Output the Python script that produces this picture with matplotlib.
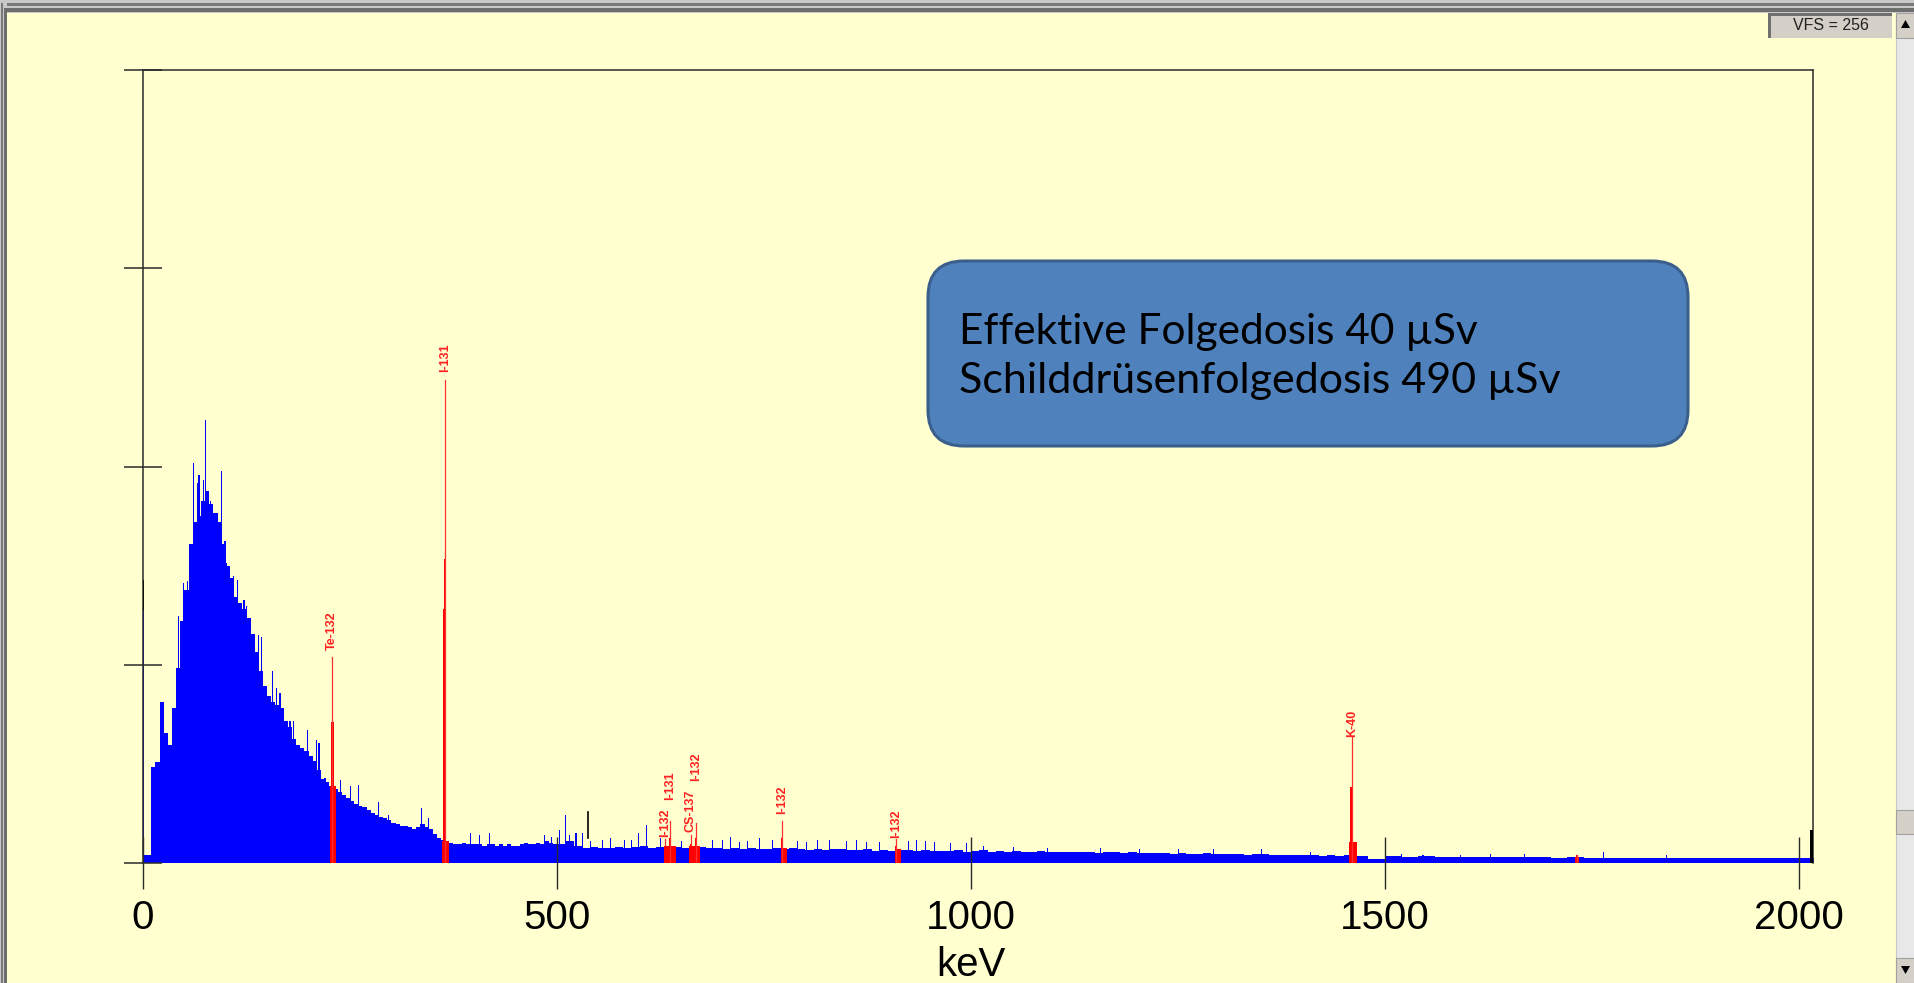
import numpy as np
import matplotlib.pyplot as plt
from matplotlib.patches import Rectangle, FancyBboxPatch, Polygon

W, H = 1915, 983

# gamma spectrum continuum, 5 keV bins from 0 to 500 keV (counts per channel)
low_counts = [2.6, 2.6, 31, 32.5, 52, 42, 38, 50, 63, 78,
              88, 103, 110, 112, 117, 120, 116, 113, 110, 103,
              96, 92, 86, 84, 82, 79, 74, 68, 62, 57,
              54, 52, 51, 50, 46, 44, 40, 38, 37, 36,
              34.5, 33, 30, 27, 26, 25, 24, 23, 22, 21,
              20, 19, 18.5, 18, 17, 16, 15.5, 15, 14.5, 14,
              13, 12.5, 12, 12, 11.5, 11, 11.5, 12.5, 11.5, 11,
              9.5, 8, 7.5, 7, 6.5, 6, 6, 6.5, 6, 6,
              6, 6, 5.5, 6, 6, 5.5, 6, 5.5, 6, 5.5,
              5.5, 6, 6.5, 6, 6, 6.5, 6, 7, 6.5, 6]

# 10 keV bins from 500 to 1500 keV
mid_counts = [6.2, 7.0, 5.5, 5.0, 5.2, 4.8, 5.0, 5.3, 4.8, 5.2,
              5.5, 5.0, 5.3, 5.0, 5.2, 4.8, 5.0, 5.2, 4.7, 5.0,
              4.6, 4.8, 4.5, 5.0, 4.6, 4.4, 4.7, 4.5, 4.8, 4.4,
              4.3, 4.6, 4.2, 4.4, 4.5, 4.1, 4.3, 4.4, 4.0, 4.2,
              4.0, 4.3, 4.1, 3.9, 4.2, 3.8, 4.0, 3.9, 4.1, 3.7,
              3.8, 4.1, 3.7, 3.9, 3.6, 3.8, 3.5, 3.7, 3.8, 3.5,
              3.5, 3.7, 3.4, 3.6, 3.5, 3.3, 3.5, 3.4, 3.2, 3.4,
              3.2, 3.3, 3.1, 3.3, 3.0, 3.1, 3.0, 2.9, 3.1, 2.9,
              2.9, 2.8, 3.0, 2.7, 2.8, 2.9, 2.6, 2.7, 2.6, 2.5,
              2.5, 2.6, 2.4, 2.5, 2.3, 2.5, 2.4, 2.3, 1.3, 1.3]

# 20 keV bins from 1500 to 2020 keV
high_counts = [2.2, 2.0, 2.1, 2.0, 1.9, 1.9, 1.8, 1.9, 1.8, 1.8,
               1.7, 1.8, 1.7, 1.6, 1.7, 1.6, 1.6, 1.5, 1.6, 1.5,
               1.5, 1.6, 1.5, 1.6, 1.7, 1.5]

# single noisy channels sticking out of the continuum
spike_kev = [0.5, 42.7, 48.7, 53.5, 60.8, 65.6, 67.6, 72.9, 75.7, 82, 87, 95, 99, 101,
             109, 114, 122, 125, 139, 143, 156, 161, 165.5, 177.5, 181.6, 198.5, 209.7,
             212.6, 219.8, 238.7, 250.8, 260, 284, 296, 336.5, 344.6, 395, 406, 419,
             485, 493, 503, 510.4, 515, 523, 531, 540, 555.5, 565, 581.7, 590, 598, 608.6,
             625, 650, 688, 700, 710, 720.5, 730, 744.7, 760, 790, 801, 815, 829, 850, 862,
             873.5, 890, 925, 934, 945, 956, 975, 995, 1015, 1051, 1092, 1156, 1204, 1251,
             1293, 1351, 1410, 1520, 1546, 1591, 1627, 1669, 1764, 1840]
spike_cnt = [82, 79.6, 90.4, 91, 129, 122.7, 125.4, 123.8, 142.9, 117, 113, 126.5, 104, 97,
             92.6, 91.5, 85, 82.9, 73.7, 73, 62, 56.5, 54.8, 46, 46, 43, 39.8,
             38.7, 27.4, 26.8, 24.7, 25.2, 19.8, 15.5, 17.7, 14.4, 9.6, 9.1, 9.6,
             9, 8.5, 10.7, 15.5, 9, 9.6, 9.6, 7, 7.4, 8, 7.4, 7.5, 9.6, 12.3,
             8, 7, 7.4, 7.5, 8.5, 6.9, 7, 8, 7.5, 7, 6.9, 7.5, 7.4, 7, 7.5,
             6.9, 6.8, 7, 7.4, 7.2, 6.9, 6.5, 6.5, 5.5, 5.3, 4.7, 4.7, 4.4, 4.4,
             4.4, 4.4, 3.7, 2.8, 2.6, 2.6, 2.8, 2.8, 3.7, 2.6]

# identified nuclide peaks (red)
peak_name = ['Te-132', 'I-131', 'I-132', 'I-131', 'CS-137', 'I-132', 'I-132', 'I-132', 'K-40', '']
peak_kev = [228.5, 364.5, 630.5, 636.5, 661.5, 668, 772, 910, 1460, 1732]
peak_top = [66.6, 156, 7.8, 13.4, 9.0, 12.9, 13.4, 7.8, 41, 2.6]
peak_mid = [45.6, 98, 5.5, 8, 6, 8, 8, 5.5, 24.6, 2.6]
peak_block = [45.6, 82, 5.5, 8, 6, 8, 8, 5.5, 24.6, 2.6]
peak_width = [4, 4, 2.5, 2.5, 2.5, 2.5, 2.5, 2.5, 4, 2]
roi_lo = [225.5, 361, 629, 629, 659, 659, 770, 909, 1456.5, 1730]
roi_hi = [233, 370, 644, 644, 673, 673, 778, 916, 1466, 1734]
roi_level = [25, 7, 5.5, 5.5, 5.5, 5.5, 5, 4.5, 6.8, 2]
label_y = [68.8, 158.4, 8.4, 20.4, 10, 26.5, 15.8, 8, 40.7, 0]

x_ticks = [0, 500, 1000, 1500, 2000]
y_ticks = [0, 64, 128, 192, 256]

bg = '#FFFFD0'
fig = plt.figure(figsize=(W / 100, H / 100), dpi=100, facecolor=bg)
ax = fig.add_axes([143 / W, 1 - 863 / H, (1813 - 143) / W, (863 - 70) / H])
ax.set_facecolor('none')

edges = np.concatenate([np.arange(0, 501, 5), np.arange(510, 1501, 10), np.arange(1520, 2021, 20)])
counts = np.array(low_counts + mid_counts + high_counts)
ax.fill_between(edges, np.append(counts, counts[-1]), step='post', color='#0000FF', lw=0, zorder=1)
ax.bar(spike_kev, spike_cnt, width=1.3, color='#0000FF', lw=0, zorder=1)

for i in range(len(peak_kev)):
    k = peak_kev[i]
    ax.fill_between([roi_lo[i], roi_hi[i]], roi_level[i], color='#FF0000', lw=0, zorder=2)
    ax.bar(k, peak_block[i], width=peak_width[i], color='#FF0000', lw=0, zorder=2)
    ax.bar(k, peak_mid[i], width=2.2, color='#FF0000', lw=0, zorder=2)
    ax.plot([k, k], [0, peak_top[i]], color='#FF3030', lw=0.9, zorder=2)
    if peak_name[i]:
        ax.text(k, label_y[i], peak_name[i], rotation=90, ha='center', va='bottom',
                color='#FF2020', fontsize=9, fontweight='bold', family='Liberation Sans')

# cursor marks drawn in black by the analyser
ax.plot([0, 0], [82, 91], color='black', lw=1.2, zorder=3)
ax.plot([537, 537], [8, 16.5], color='black', lw=1.2, zorder=3)
ax.fill_between([2013, 2017], 10.7, color='black', lw=0, zorder=3)

ax.set_xlim(0, 2017)
ax.set_ylim(0, 256)
ax.set_xticks(x_ticks)
ax.set_xticklabels([str(t) for t in x_ticks], family='Liberation Sans')
ax.set_yticks(y_ticks)
ax.tick_params(axis='x', direction='inout', length=38, width=1.0, color='#2A2A2A', pad=7, labelsize=29)
ax.tick_params(axis='y', direction='inout', length=27, width=1.1, color='#2A2A2A', labelleft=False)
for s in ['top', 'left', 'right']:
    ax.spines[s].set_color('#2A2A2A')
    ax.spines[s].set_linewidth(1.1)
ax.spines['bottom'].set_visible(False)

fig.text(971 / W, 1 - 965 / H, 'keV', ha='center', va='center', fontsize=29, family='Liberation Sans')

# overlay in pixel units for the window frame and the annotation box
ov = fig.add_axes([0, 0, 1, 1], zorder=5)
ov.set_xlim(0, W)
ov.set_ylim(H, 0)
ov.axis('off')

ov.add_patch(Rectangle((0, 0), W, 13, fc='#C8C8C8', lw=0))
ov.add_patch(Rectangle((0, 3), W, 3, fc='#7A7A7A', lw=0))
ov.add_patch(Rectangle((0, 8), W, 4, fc='#6E6E6E', lw=0))
ov.add_patch(Rectangle((0, 0), 7, H, fc='#C8C8C8', lw=0))
ov.add_patch(Rectangle((1, 3), 2, H, fc='#7A7A7A', lw=0))
ov.add_patch(Rectangle((4, 8), 3, H, fc='#6E6E6E', lw=0))

# VFS field
ov.add_patch(Rectangle((1768, 13), 124, 25, fc='#D4D0C8', lw=0))
ov.add_patch(Rectangle((1768, 13), 124, 3, fc='#707070', lw=0))
ov.add_patch(Rectangle((1768, 13), 3, 25, fc='#707070', lw=0))
ov.text(1831, 26, 'VFS = 256', ha='center', va='center', fontsize=11.5,
        family='Liberation Sans', color='#202020')

# scrollbar
ov.add_patch(Rectangle((1896, 13), 19, H - 13, fc='#E8E8E8', ec='#C8C8C8', lw=0.8))
ov.add_patch(Rectangle((1896, 13), 19, 25, fc='#D4D0C8', ec='#A0A0A0', lw=0.8))
ov.add_patch(Polygon([[1905.5, 20], [1901, 28], [1910, 28]], fc='black', lw=0))
ov.add_patch(Rectangle((1896, 810), 19, 24, fc='#D4D0C8', ec='#A0A0A0', lw=0.8))
ov.add_patch(Rectangle((1896, 958), 19, 25, fc='#D4D0C8', ec='#A0A0A0', lw=0.8))
ov.add_patch(Polygon([[1901, 966], [1910, 966], [1905.5, 974]], fc='black', lw=0))

# dose annotation
ov.add_patch(FancyBboxPatch((928, 261), 760, 185, boxstyle='round,pad=0,rounding_size=36',
                            fc='#4F81BD', ec='#3A5F8C', lw=2.2))
ov.text(959, 344, 'Effektive Folgedosis 40 µSv', va='baseline', ha='left',
        fontsize=30.5, family='Lato', color='black')
ov.text(959, 393, 'Schilddrüsenfolgedosis 490 µSv', va='baseline', ha='left',
        fontsize=31, family='Lato', color='black')

fig.savefig('out.png', dpi=100, facecolor=bg)
